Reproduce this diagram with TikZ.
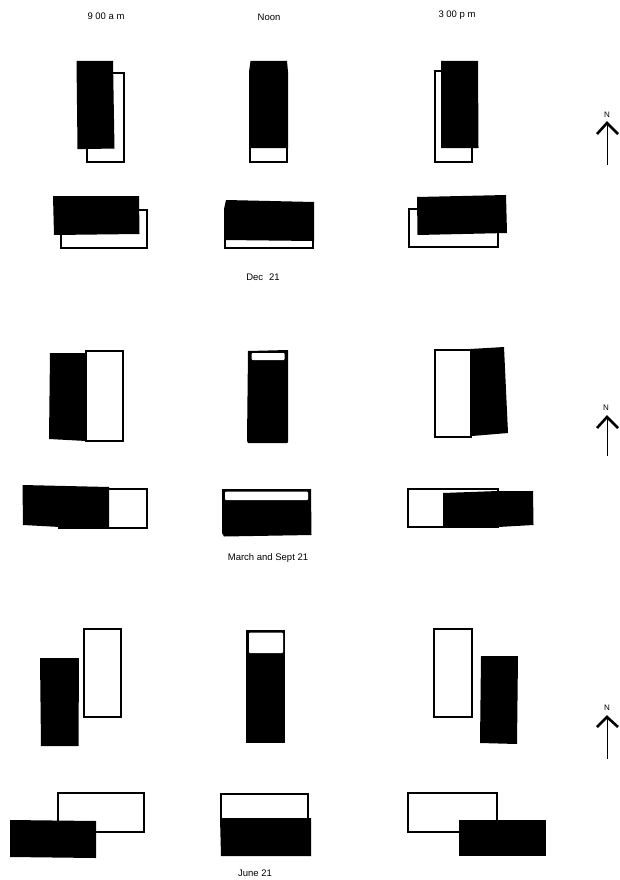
\documentclass[tikz,border=0pt]{standalone}
\usepackage{fontspec}
\setmainfont{Liberation Sans}
\begin{document}
\begin{tikzpicture}[
  x=1pt,y=-1pt,
  bldg/.style={draw,line width=2pt,fill=white},
  shdw/.style={fill=black},
  gap/.style={fill=white,rounded corners=1pt},
  lab/.style={font=\fontsize{9.5}{11}\selectfont,inner sep=0pt},
  northlab/.style={font=\fontsize{8}{9}\selectfont,inner sep=0pt},
  chevron/.style={line width=2.6pt},
  shaft/.style={line width=0.9pt}
]
\useasboundingbox (0,0) rectangle (619,880);

% column titles
\node[lab] (nine) at (106,16) {9 00 a m};
\node[lab] (noon) at (269,17) {Noon};
\node[lab] (three) at (457,15) {3 00 p m};

% Dec 21
\draw[bldg] (87,73) rectangle (124,162);
\fill[shdw] (76.5,61) -- (113,61) -- (114.5,148.5) -- (88,149) -- (77.5,149) -- cycle;
\draw[bldg] (250,73) rectangle (287,192-30);
\fill[shdw] (250.5,61) -- (287,61) -- (288,72) -- (288,148) -- (249,148) -- (249,72) -- cycle;
\draw[bldg] (435,71) rectangle (472,162);
\fill[shdw] (441,61) -- (478,61) -- (478.5,148) -- (441,148) -- cycle;
\draw[bldg] (61,210) rectangle (147,248);
\fill[shdw] (53,196) -- (139,196) -- (139.5,234) -- (54,235) -- cycle;
\draw[bldg] (225,212) rectangle (313,248);
\fill[shdw] (226,200) -- (314,202) -- (314,241) -- (224,240) -- (224,209) -- cycle;
\draw[bldg] (409,209) rectangle (498,247);
\fill[shdw] (417,197) -- (506,195) -- (507,233) -- (417.5,235) -- cycle;
\node[lab] (dec) at (263,277) {Dec\hspace{6pt}21};

% March and Sept 21
\fill[shdw] (50,353) -- (86,353) -- (86,441) -- (49,439) -- cycle;
\draw[bldg] (86,351) rectangle (122.5,441);
\fill[shdw] (248,351) -- (288,350) -- (288,442) -- (287,443) -- (248,443) -- (247,441) -- cycle;
\fill[gap] (251.5,353) rectangle (284.5,360);
\fill[shdw] (470,349) -- (504,347) -- (508,433) -- (472,436) -- cycle;
\draw[bldg] (435,350) rectangle (471,437);
\draw[bldg] (59,489) rectangle (146.5,528);
\fill[shdw] (22.5,485) -- (109,487) -- (109,527) -- (60,527) -- (23,525) -- cycle;
\fill[shdw] (222,489) -- (311,489) -- (311.5,535) -- (224,536.5) -- (222,533) -- cycle;
\fill[gap] (225,491.5) rectangle (308,500);
\draw[bldg] (408,488.5) rectangle (498,527);
\fill[shdw] (443,493) -- (498,491) -- (533,491) -- (533.5,525) -- (498,527) -- (443,527) -- cycle;
\node[lab] (march) at (268,558) {March and Sept 21};

% June 21
\draw[bldg] (84,629) rectangle (120.5,717);
\fill[shdw] (40,658) -- (79,658) -- (78.5,746) -- (41,746) -- cycle;
\fill[shdw] (246,630) -- (285,630) -- (285,743) -- (246,743) -- cycle;
\fill[gap] (249,632.5) rectangle (283,653);
\draw[bldg] (434,629) rectangle (471.5,716.5);
\fill[shdw] (481,656) -- (518,656) -- (517,744) -- (480,743) -- cycle;
\draw[bldg] (58,793) rectangle (144,832);
\fill[shdw] (10,820) -- (96,821) -- (96,858) -- (10,857) -- cycle;
\draw[bldg] (221,794) rectangle (308,825);
\fill[shdw] (220,818) -- (311,818) -- (311,856) -- (221,856) -- cycle;
\draw[bldg] (408,793) rectangle (496.5,832);
\fill[shdw] (459,820) -- (546,820) -- (546,856) -- (459,856) -- cycle;
\node[lab] (june) at (255,873) {June 21};

% north arrows
\node[northlab] (north1) at (607,115) {N};
\draw[chevron] (597,134) -- (607,123) -- (618,134);
\draw[shaft] (607,124) -- (607,165);
\node[northlab] (north2) at (606,408) {N};
\draw[chevron] (597,428) -- (607,417) -- (618,428);
\draw[shaft] (607,418) -- (607,456);
\node[northlab] (north3) at (607,708) {N};
\draw[chevron] (597,727) -- (607,717) -- (618,727);
\draw[shaft] (607,718) -- (607,759);
\end{tikzpicture}
\end{document}
